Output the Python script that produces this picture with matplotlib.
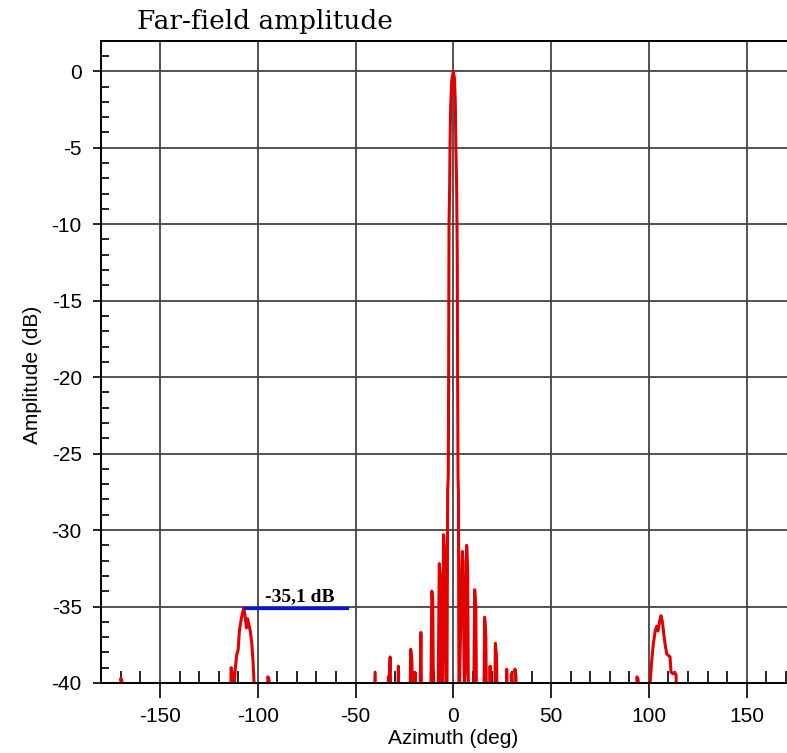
import numpy as np
import matplotlib
matplotlib.use("Agg")
import matplotlib.pyplot as plt

plt.rcParams['axes.unicode_minus'] = False
plt.rcParams['font.family'] = ['Liberation Sans', 'DejaVu Sans']

# Far-field cut (deg, dB); -45 marks a null below the axis
center_az = [-41.0, -40.0, -39.2,
             -34.0, -33.2, -32.8, -32.3, -31.6,
             -28.8, -28.1, -27.4,
             -22.6, -21.8, -21.2, -20.4, -19.6, -19.0,
             -17.4, -16.6, -16.0,
             -11.8, -11.0, -10.5, -10.0,
             -8.0, -7.2, -6.7, -6.2,
             -5.7, -5.0, -4.4, -3.8,
             -3.3, -2.9, -2.6, -2.4, -2.2, -1.9, -1.7, -1.4, -0.8, 0.0,
             0.6, 1.0, 1.3, 1.7, 2.0, 2.2, 2.4, 2.6, 2.9,
             3.5, 4.2, 4.6, 5.0, 5.6,
             6.3, 6.8, 7.3, 7.9,
             10.2, 10.9, 11.5, 12.0,
             15.4, 16.0, 16.6, 17.2,
             18.3, 18.8, 19.3,
             20.8, 21.5, 22.1, 22.8,
             26.8, 27.3, 27.8,
             29.2, 29.7, 30.1,
             31.0, 31.5, 32.0, 32.6]
center_db = [-45, -39.3, -45,
             -45, -39.6, -39.8, -38.3, -45,
             -45, -38.9, -45,
             -45, -37.8, -38.5, -45, -39.3, -45,
             -45, -36.7, -45,
             -45, -34.0, -34.6, -45,
             -45, -32.2, -33.0, -45,
             -42, -30.3, -31.5, -40,
             -42, -27.4, -26.5, -20.0, -10.0, -7.8, -5.0, -2.4, -0.6, 0.0,
             -0.5, -2.0, -5.0, -7.6, -12.0, -20.0, -26.5, -27.6, -42,
             -38, -33.0, -31.4, -32.0, -40,
             -39, -31.0, -32.5, -45,
             -45, -33.9, -35.0, -45,
             -45, -35.7, -36.8, -45,
             -45, -38.9, -45,
             -45, -37.4, -38.3, -45,
             -45, -39.1, -45,
             -45, -39.4, -45,
             -45, -39.1, -39.5, -45]

left_az = [-114.4, -113.6, -113.0, -112.4, -111.6, -110.8, -110.0, -109.4,
           -108.4, -107.2, -106.5, -105.8, -105.2, -104.5, -103.7, -103.0,
           -102.4, -101.9, -101.4]
left_db = [-45, -39.0, -39.5, -41.0, -39.2, -38.2, -37.8, -36.6,
           -35.8, -35.1, -35.6, -36.4, -35.8, -36.2, -36.7, -37.5,
           -38.6, -40.0, -45]

right_az = [99.8, 100.6, 101.4, 102.2, 103.2, 104.0, 104.6, 105.4, 106.2, 106.9,
            107.6, 108.2, 109.1, 110.0, 110.8, 111.3, 112.3, 113.2, 113.9, 114.4]
right_db = [-45, -40.0, -38.6, -37.5, -36.6, -36.3, -36.6, -36.0, -35.6, -36.0,
            -36.8, -37.4, -38.1, -38.2, -38.3, -39.3, -39.4, -39.3, -39.5, -45]

# small isolated bumps just above the floor
bump_az = [[-170.4, -170.0, -169.4, -169.0],
           [-95.3, -94.8, -94.2, -93.8],
           [93.4, 93.9, 94.5, 95.0]]
bump_db = [[-45, -39.7, -39.9, -45],
           [-45, -39.6, -39.8, -45],
           [-45, -39.6, -39.8, -45]]

# -35.1 dB grating-lobe marker
marker_level = -35.1
marker_span = [-106.5, -54.3]
marker_text = "-35,1 dB"

fig = plt.figure(figsize=(7.87, 7.53), dpi=100)
ax = fig.add_axes([0.1287, 0.0930, 0.8713, 0.8530])

red = '#e30000'
ax.plot(center_az, center_db, color=red, lw=2.2)
ax.plot(left_az, left_db, color=red, lw=2.2)
ax.plot(right_az, right_db, color=red, lw=2.2)
for bx, by in zip(bump_az, bump_db):
    ax.plot(bx, by, color=red, lw=2.2)

ax.plot(marker_span, [marker_level, marker_level], color='#0010f0', lw=2.3)
ax.text(-96.3, -34.68, marker_text, family='Liberation Serif', fontweight='bold',
        fontsize=14, va='baseline', ha='left')

ax.set_xlim(-180, 170.6)
ax.set_ylim(-40, 2)

ax.set_xticks(np.arange(-150, 151, 50))
ax.set_xticks([v for v in range(-170, 171, 10) if v % 50 != 0], minor=True)
ax.set_yticks(np.arange(-40, 1, 5))
ax.set_yticks([v for v in range(-39, 2) if v % 5 != 0], minor=True)

ax.tick_params(axis='x', which='major', direction='out', length=11, width=1.2,
               labelsize=15, pad=6)
ax.tick_params(axis='x', which='minor', direction='in', length=8.5, width=1.2)
ax.tick_params(axis='y', which='major', direction='out', length=6, width=1.2,
               labelsize=15, pad=8)
ax.tick_params(axis='y', which='minor', direction='in', length=6, width=1.2)

ax.grid(True, which='major', color='#444444', lw=1.3)
ax.set_axisbelow(True)
ax.spines['right'].set_visible(False)
for s in ['left', 'top', 'bottom']:
    ax.spines[s].set_linewidth(1.4)

ax.set_xlabel('Azimuth (deg)', fontsize=15)
ax.set_ylabel('Amplitude (dB)', fontsize=15)
ax.xaxis.set_label_coords(0.5134, -0.072)
ax.yaxis.set_label_coords(-0.0865, 0.4795)

fig.text(137 / 787, 0.9615, 'Far-field amplitude', family='DejaVu Serif',
         fontsize=19, va='baseline', ha='left')

fig.savefig('out.png', dpi=100)
